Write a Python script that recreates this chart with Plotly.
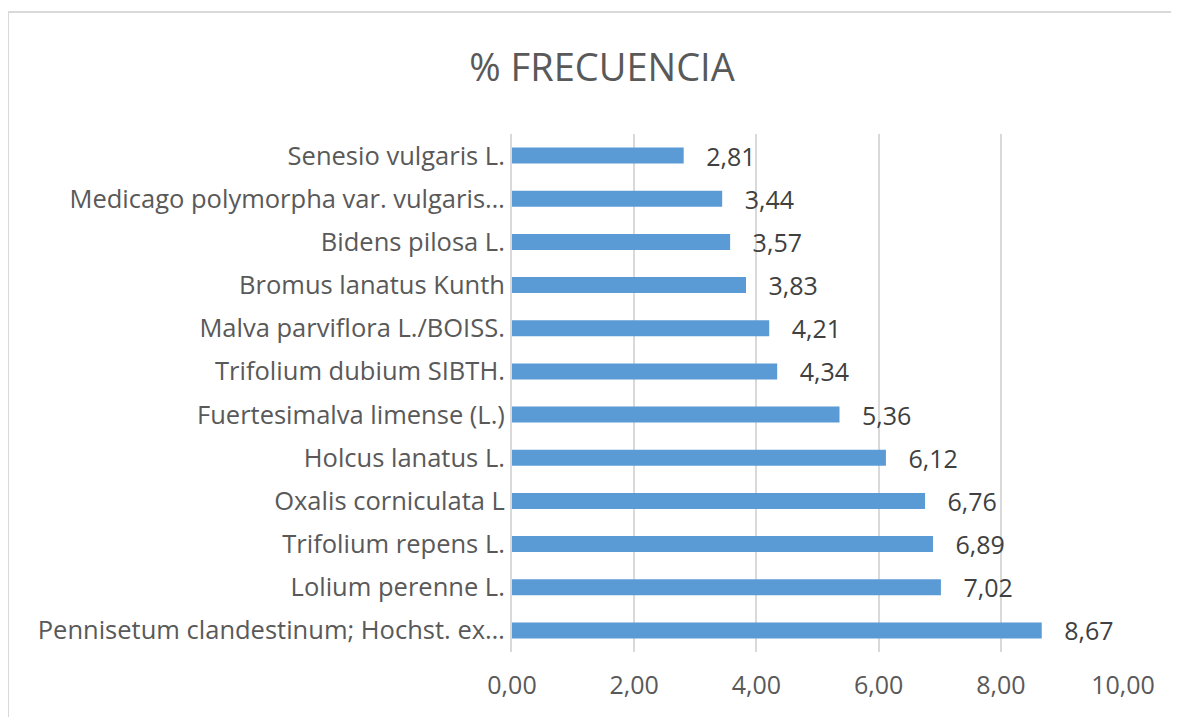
import plotly.graph_objects as go

species = [
    "Senesio vulgaris L.",
    "Medicago polymorpha var. vulgaris…",
    "Bidens pilosa L.",
    "Bromus lanatus Kunth",
    "Malva parviflora L./BOISS.",
    "Trifolium dubium SIBTH.",
    "Fuertesimalva limense (L.)",
    "Holcus lanatus L.",
    "Oxalis corniculata L",
    "Trifolium repens L.",
    "Lolium perenne L.",
    "Pennisetum clandestinum; Hochst. ex…",
]
frecuencia = [2.81, 3.44, 3.57, 3.83, 4.21, 4.34, 5.36, 6.12, 6.76, 6.89, 7.02, 8.67]
x_ticks = [0, 2, 4, 6, 8, 10]

FONT = "Open Sans, Liberation Sans, sans-serif"

fig = go.Figure(
    go.Bar(
        x=frecuencia,
        y=species,
        orientation="h",
        marker=dict(color="#5B9BD5", line=dict(width=0)),
        width=0.37,
        text=frecuencia,
        texttemplate="\u00a0\u00a0\u00a0%{x:.2f}",
        textposition="outside",
        constraintext="none",
        textfont=dict(family=FONT, size=25, color="#404040"),
        cliponaxis=False,
    )
)

fig.update_layout(
    width=1179,
    height=717,
    separators=",.",
    paper_bgcolor="white",
    plot_bgcolor="white",
    margin=dict(l=504, r=64, t=126, b=73),
    title=dict(
        text="% FRECUENCIA",
        x=594 / 1179,
        xanchor="center",
        xref="container",
        y=1 - 60 / 717,
        yanchor="middle",
        yref="container",
        font=dict(family=FONT, size=38, color="#595959"),
    ),
    xaxis=dict(
        range=[0, 10],
        tickvals=x_ticks,
        tickformat=".2f",
        showgrid=True,
        gridcolor="#d9d9d9",
        gridwidth=2,
        zeroline=False,
        showline=False,
        tickfont=dict(family=FONT, size=25, color="#595959"),
        ticklabelstandoff=16,
        fixedrange=True,
    ),
    yaxis=dict(
        autorange="reversed",
        showline=True,
        linecolor="#d9d9d9",
        linewidth=2,
        showgrid=False,
        tickfont=dict(family=FONT, size=25.5, color="#595959"),
        ticklabelstandoff=0,
        fixedrange=True,
    ),
    shapes=[
        dict(
            type="rect",
            xref="paper",
            yref="paper",
            x0=(0 - 504) / 611,
            x1=1.3,
            y0=-0.3,
            y1=(644 - 4) / 518,
            line=dict(color="#d9d9d9", width=2),
            fillcolor="rgba(0,0,0,0)",
            layer="below",
        )
    ],
    showlegend=False,
)

fig.write_html("out.html")
